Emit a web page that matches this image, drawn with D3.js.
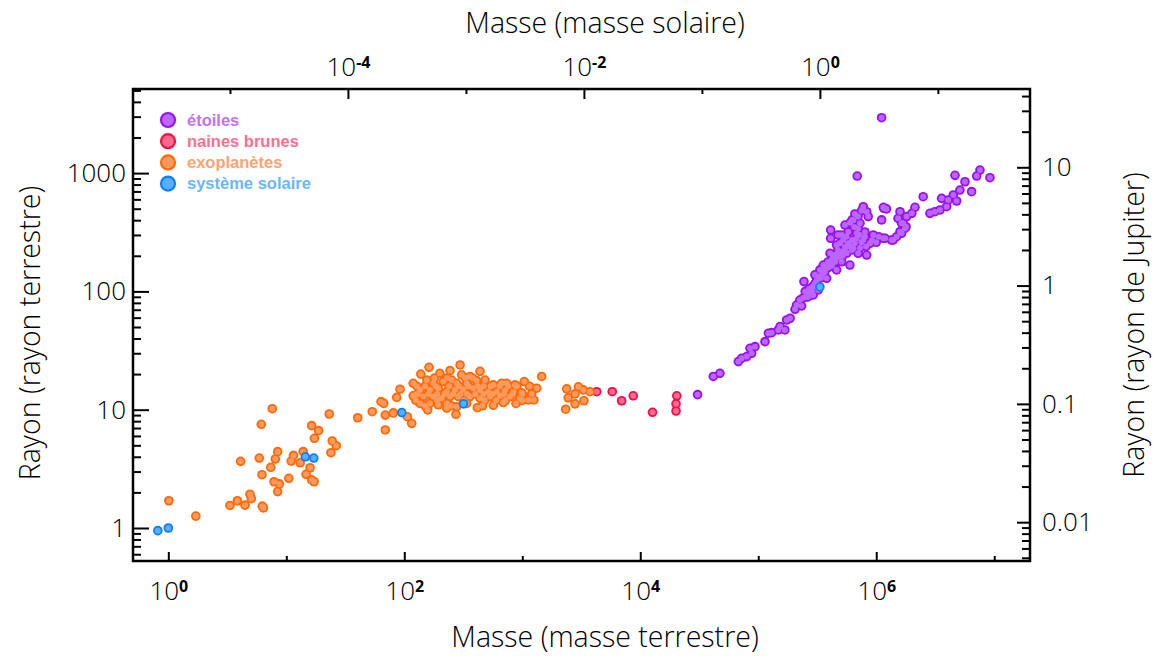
<!DOCTYPE html>
<html>
<head>
<meta charset="utf-8">
<script src="https://cdn.jsdelivr.net/npm/d3@7"></script>
<style>
  body { margin: 0; background: #fff; }
</style>
</head>
<body>
<svg id="chart" width="1153" height="656"></svg>
<script>
// masses in Earth masses, radii in Earth radii
const starMass = [30600, 41600, 47300, 67800, 72300, 79800, 87900, 85100, 93800, 114000, 122000, 130000, 148000, 153000, 168000, 174000, 186000, 205000, 233000, 265000, 292000, 322000, 244000, 211000, 274000, 322000, 380000, 406000, 411000, 411000, 509000, 492000, 598000, 619000, 579000, 659000, 776000, 830000, 728000, 776000, 885000, 944000, 830000, 703000, 579000, 461000, 1110000, 1160000, 1190000, 1350000, 1490000, 1590000, 1640000, 1590000, 1810000, 1790000, 333000, 356000, 419000, 492000, 561000, 525000, 659000, 682000, 703000, 461000, 380000, 292000, 257000, 225000, 1110000, 690000, 4650000, 5650000, 5120000, 6430000, 7570000, 7100000, 9200000, 4500000, 4800000, 4070000, 3580000, 3950000, 3470000, 3140000, 2850000, 2500000, 2130000, 2000000, 1530000, 1690000, 1750000, 1640000, 1150000, 1150000, 1220000, 855000, 1390000, 389000, 438000, 474000, 543000, 624000, 474000, 543000, 624000, 447000, 347000, 308000, 280000, 258000, 302000, 728000, 802000, 512000,
  240000, 250000, 270000, 285000, 300000, 315000, 340000, 345000, 365000, 395000, 400000, 420000, 430000, 455000, 470000, 500000, 520000, 540000, 560000, 600000, 640000, 680000, 720000, 750000, 800000, 640000, 600000, 700000, 750000, 650000, 560000, 820000, 920000, 1000000, 1050000];
const starRadius = [13.4, 19.1, 20.3, 25.5, 27.2, 28.1, 30.0, 33.0, 34.1, 37.6, 44.3, 44.8, 47.2, 50.4, 47.2, 57.3, 59.3, 70.6, 75.3, 90.2, 93.3, 103, 121, 76.7, 96.4, 133, 157, 210, 281, 330, 178, 255, 167, 224, 320, 451, 520, 472, 377, 272, 255, 300, 203, 210, 255, 247, 402, 504, 281, 272, 290, 320, 377, 472, 429, 352, 152, 167, 184, 196, 210, 272, 255, 310, 341, 152, 129, 110, 96.4, 84.5, 2940, 944, 957, 845, 719, 697, 1060, 944, 914, 653, 581, 593, 612, 520, 488, 472, 457, 632, 514, 457, 415, 377, 341, 310, 281, 514, 498, 429, 272, 177, 203, 224, 237, 272, 300, 364, 402, 177, 138, 120, 107, 89.7, 138, 233, 318, 300,
  88, 100, 105, 100, 115, 125, 130, 150, 145, 160, 175, 165, 195, 190, 210, 215, 200, 225, 240, 240, 230, 280, 300, 260, 290, 400, 380, 430, 480, 350, 290, 240, 270, 260, 290];

const dwarfMass = [4270, 5790, 6950, 8720, 12700, 20400, 20100, 20100];
const dwarfRadius = [14.2, 14.2, 11.9, 13.1, 9.51, 13.1, 11.2, 9.75];

const exoMass = [1.01, 1.71, 3.33, 3.85, 4.47, 4.92, 5.05, 6.26, 6.4, 4.1, 5.9, 6.14, 7.6, 8.45, 8.07, 7.38, 6.22, 7.87, 8.72, 8.45, 10.5, 11, 11.5, 13.1, 15.9, 14.7, 16.4, 17.2, 13.9, 16.4, 18.8, 17.3, 23.1, 24.5, 26.5, 23.9, 40.3, 53.5, 63.5, 67, 69, 69, 80.7, 86.2, 92, 106, 115.6, 119,
  162, 297, 244, 200, 138, 438, 306, 360, 119, 155, 176, 214, 252, 278, 338, 410, 483, 568, 668, 737, 867, 1040, 1460, 136, 165, 194, 229, 269, 316, 385, 438, 515, 607, 713, 840, 988, 1325, 121, 145, 176, 207, 244, 287, 360, 438, 532, 647, 787, 955, 1256, 1125, 136, 165, 194, 229, 278, 338, 416, 568, 690, 885, 158, 274, 229,
  180, 230, 330, 380, 128, 150, 185, 240, 290, 350, 420, 470, 540, 640, 760, 900, 1150, 130, 160, 190, 220, 260, 300, 340, 400, 470, 560, 700, 830, 1000, 1200, 125, 190, 320, 480, 600, 720, 1000, 150, 250, 460,
  2380, 2990, 3290, 2800, 2450, 3330, 2800, 2330, 3750];
const exoRadius = [1.70, 1.26, 1.55, 1.70, 1.56, 1.93, 1.77, 1.53, 1.48, 3.66, 3.9, 7.53, 10.2, 4.42, 3.83, 3.26, 2.82, 2.46, 2.36, 2.03, 2.63, 3.68, 4.11, 3.56, 3.23, 2.84, 2.55, 2.46, 4.42, 7.33, 6.65, 5.73, 9.2, 5.44, 4.96, 4.33, 8.55, 9.62, 11.7, 11.3, 6.74, 9.0, 9.4, 12.7, 14.9, 8.73, 7.67, 13.1,
  22.8, 23.9, 21.4, 20.3, 20.0, 21.1, 19.7, 19.1, 16.7, 17.8, 16.7, 17.3, 17.8, 16.7, 16.7, 17.6, 17.8, 16.2, 16.7, 16.7, 16.2, 17.3, 19.1, 14.7, 14.7, 15.2, 14.2, 14.7, 14.9, 15.2, 14.7, 14.2, 14.2, 14.5, 14.2, 13.9, 15.2, 13.2, 12.9, 12.9, 12.5, 12.9, 12.9, 12.9, 12.5, 12.9, 13.1, 12.9, 12.5, 12.1, 12.1, 11.3, 11.3, 11.0, 11.3, 10.6, 11.3, 10.4, 10.9, 11.5, 11.3, 9.96, 9.15, 10.3,
  18.5, 18.5, 18.5, 18.5, 15.8, 15.8, 15.8, 15.8, 15.8, 15.8, 15.8, 15.8, 15.8, 15.8, 15.8, 15.8, 15.8, 13.6, 13.6, 13.6, 13.6, 13.6, 13.6, 13.6, 13.6, 13.6, 13.6, 13.6, 13.6, 13.6, 13.6, 12.0, 12.0, 12.0, 12.0, 12.0, 12.0, 12.0, 10.8, 10.8, 10.8,
  15.0, 15.6, 14.7, 13.6, 12.6, 11.9, 11.2, 10.1, 14.2];

const solarNames = ["Vénus", "Terre", "Uranus", "Neptune", "Saturne", "Jupiter", "Soleil"];
const solarMass = [0.815, 1, 14.5, 17.1, 95.2, 317.8, 333000];
const solarRadius = [0.95, 1, 4.0, 3.9, 9.45, 11.2, 109];

const legendLabels = ["étoiles", "naines brunes", "exoplanètes", "système solaire"];

const xMajor = [1, 1e2, 1e4, 1e6];
const xMinor = [10, 1e3, 1e5, 1e7];
const topMajor = [1e-4, 1e-2, 1];
const topMinor = [1e-5, 1e-3, 1e-1, 10];
const yMajor = [1, 10, 100, 1000];
const yMinor = [0.6, 0.7, 0.8, 0.9, 2, 3, 4, 5, 6, 7, 8, 9, 20, 30, 40, 50, 60, 70, 80, 90, 200, 300, 400, 500, 600, 700, 800, 900, 2000, 3000, 4000, 5000];
const rMajor = [0.01, 0.1, 1, 10];
const rMinor = [0.005, 0.006, 0.007, 0.008, 0.009, 0.02, 0.03, 0.04, 0.05, 0.06, 0.07, 0.08, 0.09, 0.2, 0.3, 0.4, 0.5, 0.6, 0.7, 0.8, 0.9, 2, 3, 4, 5, 6, 7, 8, 9, 20, 30, 40];

const earthPerSun = 333000;
const earthPerRj = 112;

const font = "'Open Sans', 'DejaVu Sans', sans-serif";
const box = { l: 133, r: 1030, t: 89, b: 561 };

const svg = d3.select("#chart");
svg.append("rect").attr("width", 1153).attr("height", 656).attr("fill", "#fff");

const x = d3.scaleLog().domain([0.502, 2.01e7]).range([box.l, box.r]);
const y = d3.scaleLog().domain([0.526, 5140]).range([box.b, box.t]);
const xTop = d3.scaleLog().domain(x.domain().map(d => d / earthPerSun)).range(x.range());
const yRight = d3.scaleLog().domain(y.domain().map(d => d / earthPerRj)).range(y.range());

function tidy(g) {
  g.select(".domain").remove();
  g.selectAll("line").attr("stroke", "#000").attr("stroke-width", 2);
  g.attr("font-family", font).attr("font-size", 26).attr("font-weight", 300);
}

function powers(g) {
  g.selectAll(".tick text").each(function (d) {
    const e = Math.round(Math.log10(d));
    const t = d3.select(this).text("10");
    t.append("tspan").attr("dy", "-0.5em").attr("font-size", 16)
      .attr("font-weight", "bold").text(e);
  });
}

// bottom axis
svg.append("g").attr("transform", `translate(0,${box.b})`)
  .call(d3.axisBottom(x).tickValues(xMajor).tickSizeInner(-9).tickSizeOuter(0).tickPadding(21))
  .call(tidy).call(powers);
svg.append("g").attr("transform", `translate(0,${box.b})`)
  .call(d3.axisBottom(x).tickValues(xMinor).tickSizeInner(-5).tickSizeOuter(0).tickFormat(""))
  .call(tidy);

// top axis (solar masses)
svg.append("g").attr("transform", `translate(0,${box.t})`)
  .call(d3.axisTop(xTop).tickValues(topMajor).tickSizeInner(-10).tickSizeOuter(0).tickPadding(13))
  .call(tidy).call(powers);
svg.append("g").attr("transform", `translate(0,${box.t})`)
  .call(d3.axisTop(xTop).tickValues(topMinor).tickSizeInner(-5).tickSizeOuter(0).tickFormat(""))
  .call(tidy);

// left axis
svg.append("g").attr("transform", `translate(${box.l},0)`)
  .call(d3.axisLeft(y).tickValues(yMajor).tickSizeInner(-16).tickSizeOuter(0).tickPadding(7).tickFormat(d3.format("d")))
  .call(tidy);
svg.append("g").attr("transform", `translate(${box.l},0)`)
  .call(d3.axisLeft(y).tickValues(yMinor).tickSizeInner(-8).tickSizeOuter(0).tickFormat(""))
  .call(tidy);

// right axis (Jupiter radii)
svg.append("g").attr("transform", `translate(${box.r},0)`)
  .call(d3.axisRight(yRight).tickValues(rMajor).tickSizeInner(-13).tickSizeOuter(0).tickPadding(12).tickFormat(d => String(d)))
  .call(tidy);
svg.append("g").attr("transform", `translate(${box.r},0)`)
  .call(d3.axisRight(yRight).tickValues(rMinor).tickSizeInner(-8).tickSizeOuter(0).tickFormat(""))
  .call(tidy);

svg.append("rect")
  .attr("x", box.l).attr("y", box.t)
  .attr("width", box.r - box.l).attr("height", box.b - box.t)
  .attr("fill", "none").attr("stroke", "#000").attr("stroke-width", 2.5);

// titles
function title(tr, label) {
  svg.append("text").attr("transform", tr).attr("text-anchor", "middle")
    .attr("font-family", font).attr("font-size", 28.5).attr("font-weight", 300).text(label);
}
title("translate(605,33)", "Masse (masse solaire)");
title("translate(605,647)", "Masse (masse terrestre)");
title("translate(40,333) rotate(-90)", "Rayon (rayon terrestre)");
title("translate(1144,325) rotate(-90)", "Rayon (rayon de Jupiter)");

// points: outline pass then fill pass so crowded groups merge
const groups = [
  { mass: starMass, radius: starRadius, edge: "#9a10f5", fill: "#bb66ff", text: "#c272f2" },
  { mass: dwarfMass, radius: dwarfRadius, edge: "#f0104a", fill: "#ff6a8e", text: "#ff6f92" },
  { mass: exoMass, radius: exoRadius, edge: "#ff6a0a", fill: "#ff9a5c", text: "#ffa372" },
  { mass: solarMass, radius: solarRadius, edge: "#0a80ff", fill: "#5aaeff", text: "#6cb6ff" }
];

groups.forEach(s => {
  const pts = d3.zip(s.mass, s.radius);
  const g = svg.append("g");
  g.selectAll("circle.edge").data(pts).join("circle").attr("class", "edge")
    .attr("cx", d => x(d[0])).attr("cy", d => y(d[1])).attr("r", 4.8).attr("fill", s.edge);
  g.selectAll("circle.core").data(pts).join("circle").attr("class", "core")
    .attr("cx", d => x(d[0])).attr("cy", d => y(d[1])).attr("r", 3.0).attr("fill", s.fill);
});

// legend
const leg = svg.append("g");
legendLabels.forEach((lab, i) => {
  const s = groups[i];
  const cy = 120 + i * 21.2;
  leg.append("circle").attr("cx", 168).attr("cy", cy).attr("r", 7)
    .attr("fill", s.fill).attr("stroke", s.edge).attr("stroke-width", 2.2);
  leg.append("text").attr("x", 187).attr("y", cy + 5.5)
    .attr("font-family", "'Liberation Sans', Arial, sans-serif").attr("font-weight", "bold")
    .attr("font-size", 16.5).attr("fill", s.text).text(lab);
});
</script>
</body>
</html>
